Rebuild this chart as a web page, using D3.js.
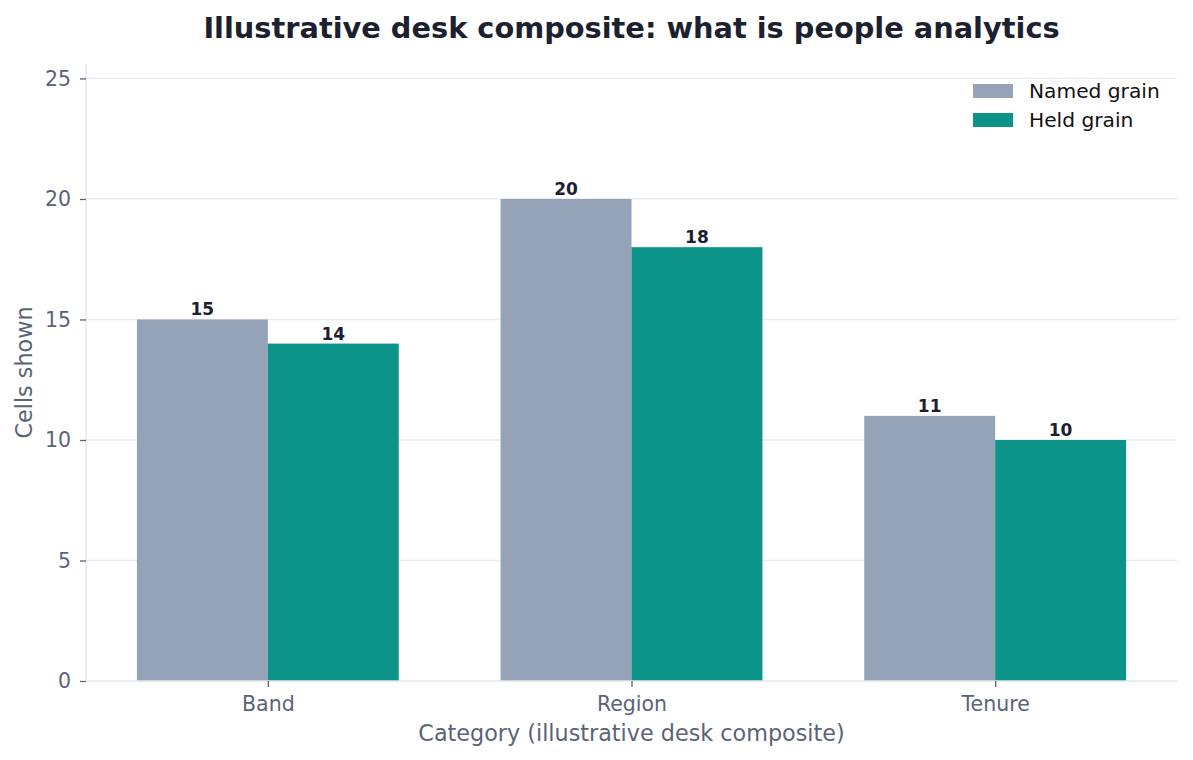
<!DOCTYPE html>
<html>
<head>
<meta charset="utf-8">
<script src="https://cdn.jsdelivr.net/npm/d3@7"></script>
<style>
  body { margin: 0; background: #fff; }
  text { font-family: "DejaVu Sans", sans-serif; }
</style>
</head>
<body>
<div id="chart"></div>
<script>
// chart data
var categories = ["Band", "Region", "Tenure"];
var seriesNames = ["Named grain", "Held grain"];
var namedGrain = [15, 20, 11];
var heldGrain = [14, 18, 10];
var yTicks = [0, 5, 10, 15, 20, 25];

var colors = ["#94a3b8", "#0d9488"];

var W = 1193, H = 760;
var margin = {top: 64, right: 16, bottom: 79, left: 86},
    width = W - margin.left - margin.right,
    height = H - margin.top - margin.bottom;

var svg = d3.select("#chart").append("svg")
    .attr("width", W).attr("height", H);

var g = svg.append("g")
    .attr("transform", "translate(" + margin.left + "," + margin.top + ")");

// scales
var x = d3.scaleLinear().domain([-0.5, categories.length - 0.5]).range([0, width]);
var y = d3.scaleLinear().domain([0, 25.6]).range([height, 0]);
var barW = 0.36;

// gridlines
g.append("g")
  .selectAll("line")
  .data(yTicks.filter(function(d) { return d > 0; }))
  .enter().append("line")
    .attr("x1", 0).attr("x2", width)
    .attr("y1", function(d) { return y(d); })
    .attr("y2", function(d) { return y(d); })
    .attr("stroke", "#e8ebf0")
    .attr("stroke-width", 1.3);

// bars
var series = [namedGrain, heldGrain];
series.forEach(function(vals, s) {
  g.append("g").selectAll("rect")
    .data(vals)
    .enter().append("rect")
      .attr("x", function(d, i) { return x(i + (s === 0 ? -barW : 0)); })
      .attr("width", x(barW) - x(0))
      .attr("y", function(d) { return y(d); })
      .attr("height", function(d) { return y(0) - y(d); })
      .attr("fill", colors[s]);

  g.append("g").selectAll("text")
    .data(vals)
    .enter().append("text")
      .attr("x", function(d, i) { return x(i + (s === 0 ? -barW / 2 : barW / 2)); })
      .attr("y", function(d) { return y(d) - 4; })
      .attr("text-anchor", "middle")
      .attr("font-size", "17px")
      .attr("font-weight", "bold")
      .attr("fill", "#1c2130")
      .text(function(d) { return d; });
});

// y axis
var yAxis = g.append("g")
  .call(d3.axisLeft(y).tickValues(yTicks).tickSize(6).tickPadding(9));
yAxis.select(".domain").attr("stroke", "#e2e6ec").attr("stroke-width", 1.3)
  .attr("d", "M0," + height + "V0");
yAxis.selectAll(".tick line").attr("stroke", "#5b6477").attr("stroke-width", 1.3);
yAxis.selectAll(".tick text").attr("fill", "#5b6477").attr("font-size", "20.5px")
  .attr("font-family", "DejaVu Sans");

// x axis
var xAxis = g.append("g")
  .attr("transform", "translate(0," + height + ")")
  .call(d3.axisBottom(x).tickValues(d3.range(categories.length))
    .tickFormat(function(i) { return categories[i]; })
    .tickSize(6).tickPadding(9));
xAxis.select(".domain").attr("stroke", "#e2e6ec").attr("stroke-width", 1.3)
  .attr("d", "M0,0H" + width);
xAxis.selectAll(".tick line").attr("stroke", "#5b6477").attr("stroke-width", 1.3);
xAxis.selectAll(".tick text").attr("fill", "#5b6477").attr("font-size", "20.5px")
  .attr("font-family", "DejaVu Sans");

// axis labels
svg.append("text")
  .attr("x", margin.left + width / 2).attr("y", 741)
  .attr("text-anchor", "middle")
  .attr("font-size", "22.3px").attr("fill", "#5b6477")
  .text("Category (illustrative desk composite)");

svg.append("text")
  .attr("transform", "translate(32," + (margin.top + height / 2) + ") rotate(-90)")
  .attr("text-anchor", "middle")
  .attr("font-size", "22.3px").attr("fill", "#5b6477")
  .text("Cells shown");

// title
svg.append("text")
  .attr("x", margin.left + width / 2).attr("y", 38)
  .attr("text-anchor", "middle")
  .attr("font-size", "28.8px").attr("font-weight", "bold").attr("fill", "#1c2130")
  .text("Illustrative desk composite: what is people analytics");

// legend
var legend = svg.append("g").attr("transform", "translate(973,84)");
seriesNames.forEach(function(name, i) {
  legend.append("rect")
    .attr("x", 0).attr("y", i * 29)
    .attr("width", 40).attr("height", 14)
    .attr("fill", colors[i]);
  legend.append("text")
    .attr("x", 56).attr("y", i * 29 + 14)
    .attr("font-size", "20.2px").attr("fill", "#111")
    .text(name);
});
</script>
</body>
</html>
